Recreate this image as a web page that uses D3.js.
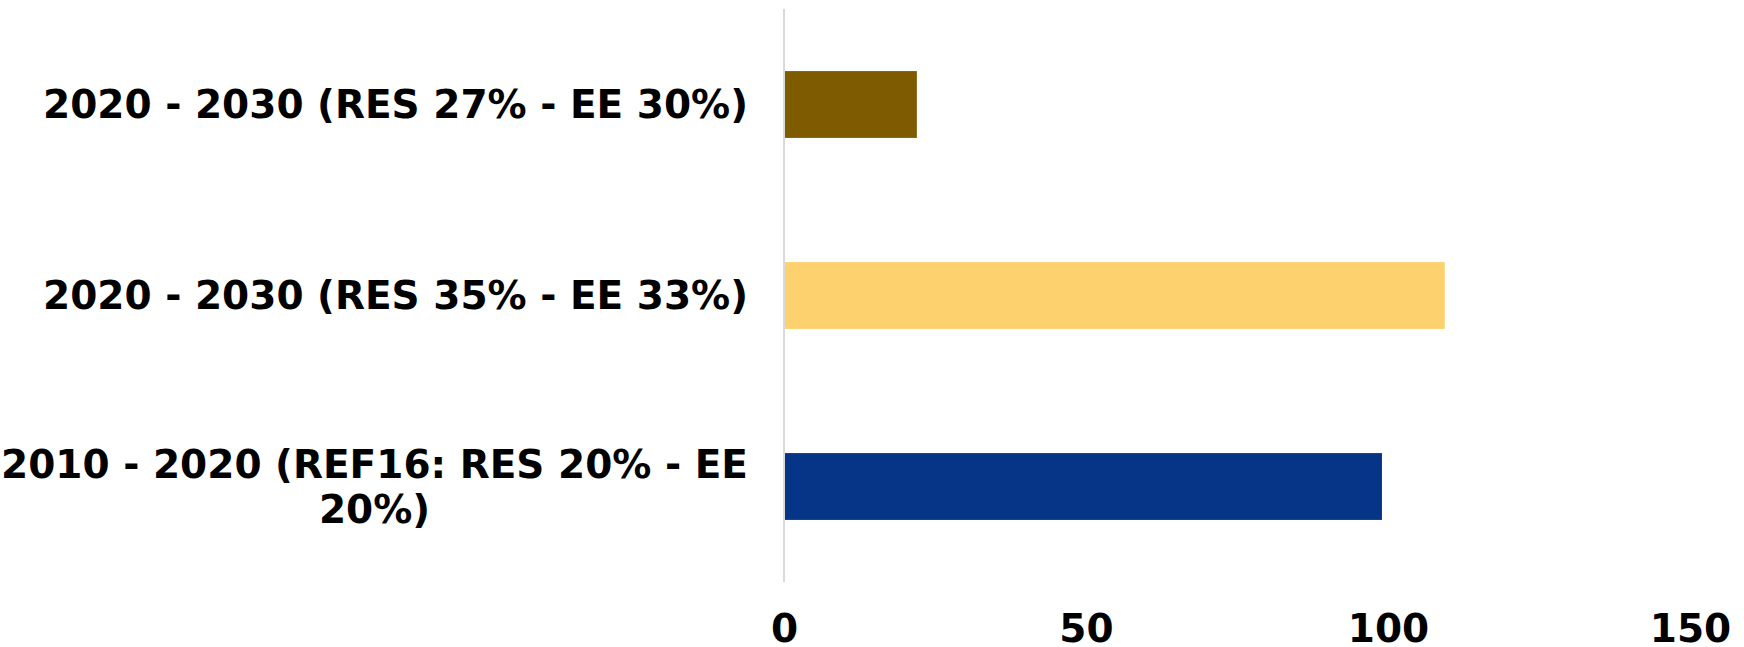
<!DOCTYPE html>
<html>
<head>
<meta charset="utf-8">
<script src="https://cdn.jsdelivr.net/npm/d3@7"></script>
<style>
  body { margin: 0; background: #fff; }
  text { font-family: "DejaVu Sans", Verdana, sans-serif; font-weight: bold; fill: #000; }
</style>
</head>
<body>
<svg id="chart"></svg>
<script>
// data, top to bottom
const categories = [
  "2020 - 2030 (RES 27% - EE 30%)",
  "2020 - 2030 (RES 35% - EE 33%)",
  "2010 - 2020 (REF16: RES 20% - EE 20%)"
];
const values = [22, 109.4, 99];
const barColors = ["#7F5B00", "#FDD26E", "#063588"];
const xTicks = [0, 50, 100, 150];

const width = 1744, height = 647;
const margin = { top: 9, right: 54, bottom: 65, left: 784 };
const fontSize = 39;

const svg = d3.select("#chart")
    .attr("width", width)
    .attr("height", height);

const x = d3.scaleLinear()
    .domain([0, 150])
    .range([margin.left, width - margin.right]);

const y = d3.scaleBand()
    .domain(categories)
    .range([margin.top, height - margin.bottom])
    .paddingInner(0.65)
    .paddingOuter(0.325);

// bars
svg.selectAll(".bar")
  .data(categories)
  .enter().append("rect")
    .attr("class", "bar")
    .attr("x", x(0))
    .attr("y", d => y(d))
    .attr("width", (d, i) => x(values[i]) - x(0))
    .attr("height", y.bandwidth())
    .attr("fill", (d, i) => barColors[i]);

// vertical category axis line
svg.append("line")
    .attr("x1", x(0)).attr("x2", x(0))
    .attr("y1", margin.top).attr("y2", height - margin.bottom)
    .attr("stroke", "#d9d9d9")
    .attr("stroke-width", 2);

// x axis: labels only
const xAxis = svg.append("g")
    .attr("transform", `translate(0,${height - margin.bottom})`)
    .call(d3.axisBottom(x).tickValues(xTicks).tickSize(0).tickPadding(0));
xAxis.select(".domain").remove();
xAxis.selectAll("text")
    .attr("dy", null)
    .attr("y", 60)
    .style("font-size", fontSize + "px")
    .style("font-family", "'DejaVu Sans', Verdana, sans-serif")
    .style("font-weight", "bold")
    .attr("fill", "#000");

// category labels, wrapped and right aligned as a block
const labelRight = 748;
const maxW = 760;
const lineH = 45;

categories.forEach(cat => {
  const g = svg.append("g");
  const words = cat.split(" ");
  const lines = [];
  let cur = [];
  const probe = g.append("text").style("font-size", fontSize + "px");
  words.forEach(w => {
    const test = cur.concat([w]).join(" ");
    probe.text(test);
    if (probe.node().getComputedTextLength() > maxW && cur.length) {
      lines.push(cur.join(" "));
      cur = [w];
    } else {
      cur.push(w);
    }
  });
  lines.push(cur.join(" "));
  let blockW = 0;
  lines.forEach(l => {
    probe.text(l);
    blockW = Math.max(blockW, probe.node().getComputedTextLength());
  });
  probe.remove();

  const cx = labelRight - blockW / 2;
  const cy = y(cat) + y.bandwidth() / 2;
  const startY = cy - (lines.length - 1) * lineH / 2;
  lines.forEach((l, i) => {
    g.append("text")
      .attr("x", cx)
      .attr("y", startY + i * lineH)
      .attr("dy", "0.35em")
      .attr("text-anchor", "middle")
      .style("font-size", fontSize + "px")
      .text(l);
  });
});
</script>
</body>
</html>
